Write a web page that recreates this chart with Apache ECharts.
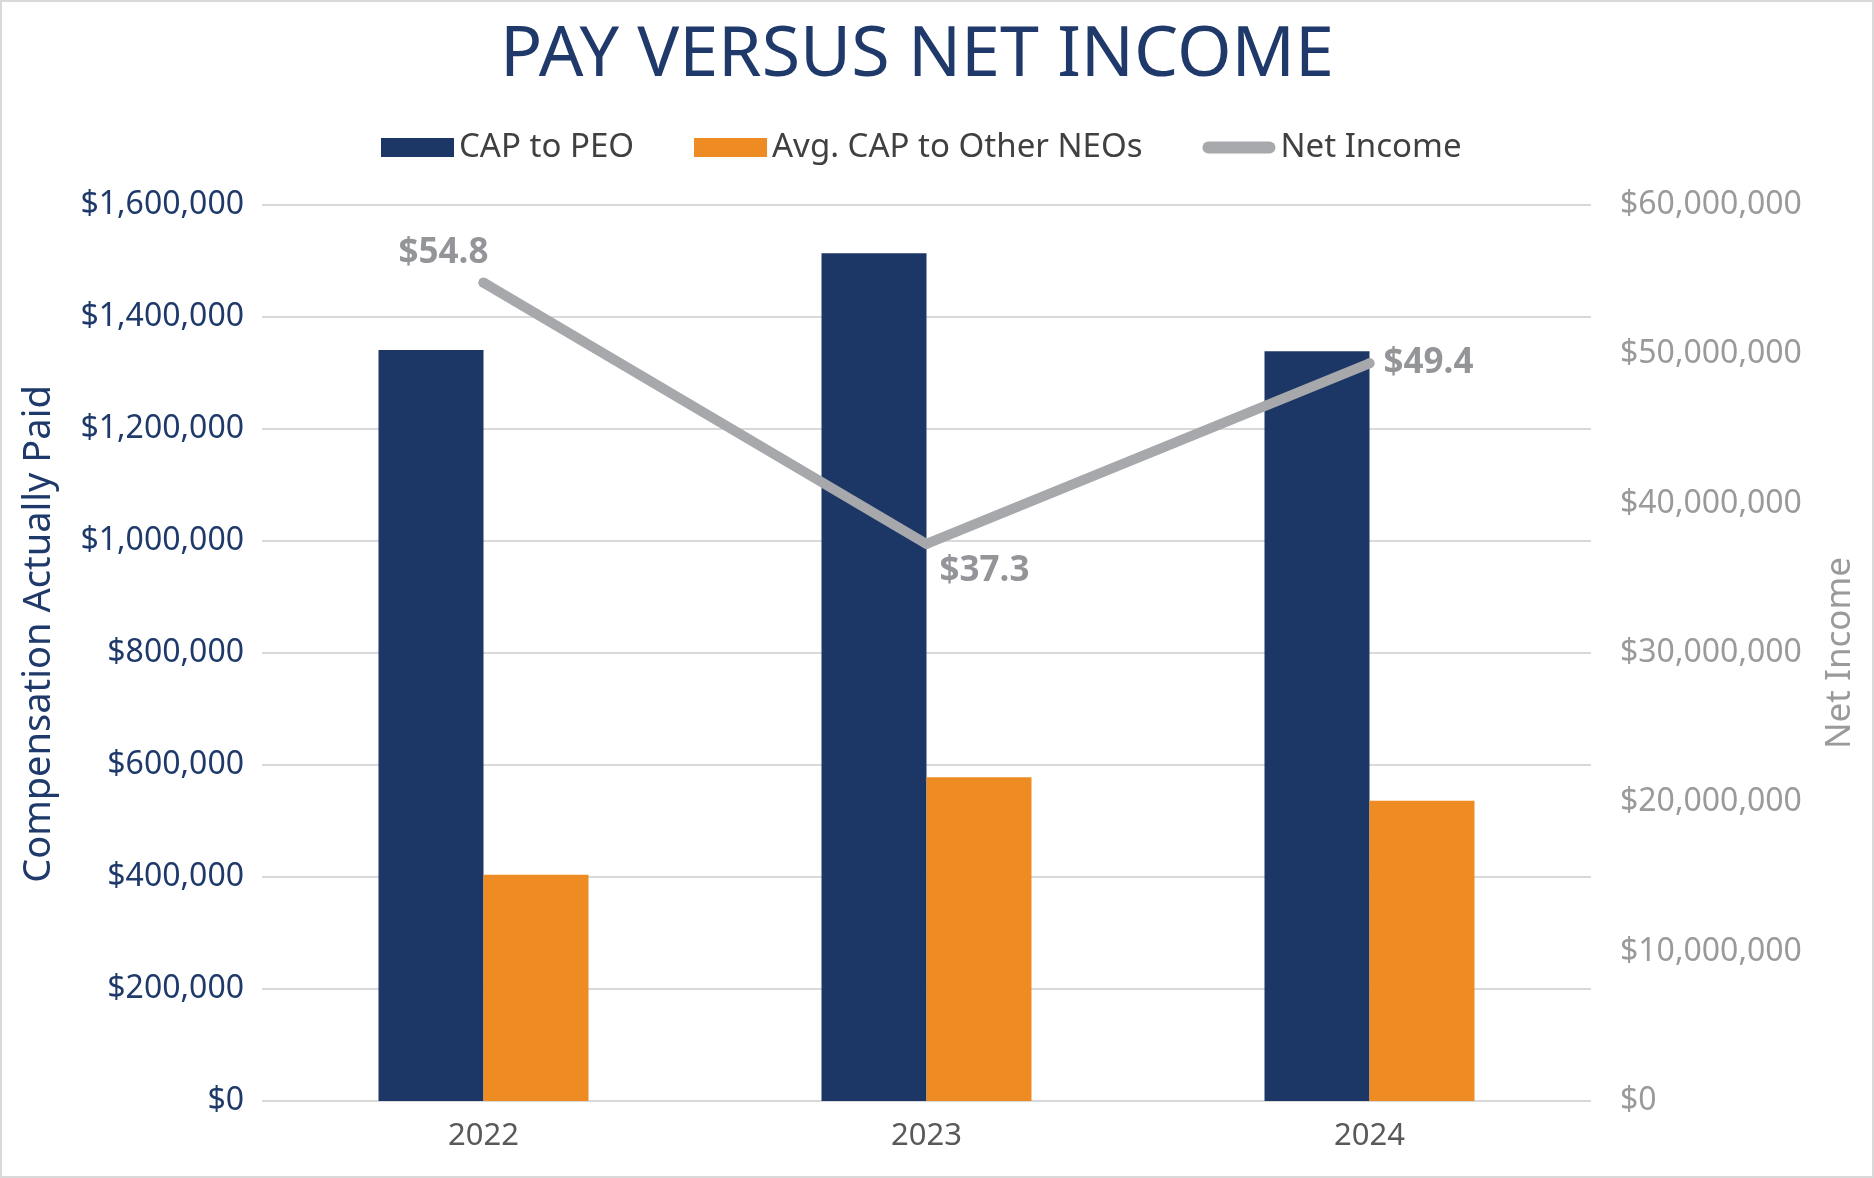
<!DOCTYPE html>
<html>
<head>
<meta charset="utf-8">
<script src="https://cdn.jsdelivr.net/npm/echarts@6/dist/echarts.min.js"></script>
<style>
    body{
        margin: 0;
        background: #fff;
    }
    #main{
        width: 1874px;
        height: 1178px;
        background: #fff;
        box-shadow: inset 0 0 0 2px #d9d9d9;
    }
</style>
</head>
<body>
<div id="main"></div>
<script>
// chart data
var years = ['2022', '2023', '2024'];
var capToPeo = [1341000, 1514000, 1339000];
var capToOtherNeos = [404000, 578000, 536000];
var netIncome = [54800000, 37300000, 49400000];

var navy = '#1c3665';
var orange = '#ee8b22';
var gray = '#a6a8ab';

function money(v){
    return '$' + Math.round(v).toString().replace(/\B(?=(\d{3})+(?!\d))/g, ',');
}

// label placement for each net income point
var labelPos = [
    {position:'top', offset:[-40, -2]},
    {position:'bottom', offset:[58, 0]},
    {position:'right', distance:9}
];

var netIncomeData = [];
for(let i in netIncome){
    netIncomeData.push({
        value: netIncome[i],
        label: labelPos[i]
    });
}

var myChart = echarts.init(document.getElementById('main'));
var option = {
    backgroundColor: 'transparent',
    textStyle: {fontFamily: 'Noto Sans'},
    title: {
        text: 'PAY VERSUS NET INCOME',
        left: 495,
        top: 16,
        textStyle: {
            color: '#1f3a6a',
            fontSize: 70,
            fontWeight: 'normal',
            fontFamily: 'Noto Sans'
        }
    },
    legend: {
        top: 126,
        left: 376,
        itemWidth: 73,
        itemHeight: 19,
        itemGap: 60,
        textStyle: {color: '#404040', fontSize: 33},
        data: [
            {name: 'CAP to PEO', icon: 'rect'},
            {name: 'Avg. CAP to Other NEOs', icon: 'rect'},
            {name: 'Net Income', icon: 'path://M6,0 L67,0 A6,6 0 0 1 67,12 L6,12 A6,6 0 0 1 6,0 Z'}
        ]
    },
    grid: {
        left: 262,
        right: 283,
        top: 205,
        bottom: 77
    },
    xAxis: {
        type: 'category',
        data: years,
        axisLine: {show: false},
        axisTick: {show: false},
        axisLabel: {color: '#595959', fontSize: 31, margin: 20}
    },
    yAxis: [
        {
            type: 'value',
            min: 0,
            max: 1600000,
            interval: 200000,
            name: 'Compensation Actually Paid',
            nameLocation: 'middle',
            nameGap: 204,
            nameTextStyle: {color: '#1f3a6a', fontSize: 38, padding: [0, 0, 0, 38]},
            axisLine: {show: false},
            axisTick: {show: false},
            axisLabel: {color: '#1f3a6a', fontSize: 32, margin: 18, formatter: money},
            splitLine: {lineStyle: {color: '#d9d9d9', width: 2}}
        },
        {
            type: 'value',
            min: 0,
            max: 60000000,
            interval: 10000000,
            name: 'Net Income',
            nameLocation: 'middle',
            nameGap: 232,
            nameTextStyle: {color: '#9a9a9a', fontSize: 35},
            axisLine: {show: false},
            axisTick: {show: false},
            axisLabel: {color: '#9a9a9a', fontSize: 32, margin: 29, formatter: money},
            splitLine: {show: false}
        }
    ],
    series: [
        {
            name: 'CAP to PEO',
            type: 'bar',
            barWidth: 105,
            barGap: '0%',
            itemStyle: {color: navy},
            data: capToPeo
        },
        {
            name: 'Avg. CAP to Other NEOs',
            type: 'bar',
            barWidth: 105,
            barGap: '0%',
            itemStyle: {color: orange},
            data: capToOtherNeos
        },
        {
            name: 'Net Income',
            type: 'line',
            yAxisIndex: 1,
            symbol: 'circle',
            symbolSize: 10,
            itemStyle: {color: gray},
            lineStyle: {color: gray, width: 10, cap: 'round', join: 'round'},
            label: {
                show: true,
                color: '#939598',
                fontSize: 35,
                fontWeight: 'bold',
                fontFamily: 'Noto Sans',
                formatter: function(p){
                    return '$' + (p.value / 1000000).toFixed(1);
                }
            },
            z: 5,
            data: netIncomeData
        }
    ]
};
myChart.setOption(option);
</script>
</body>
</html>
